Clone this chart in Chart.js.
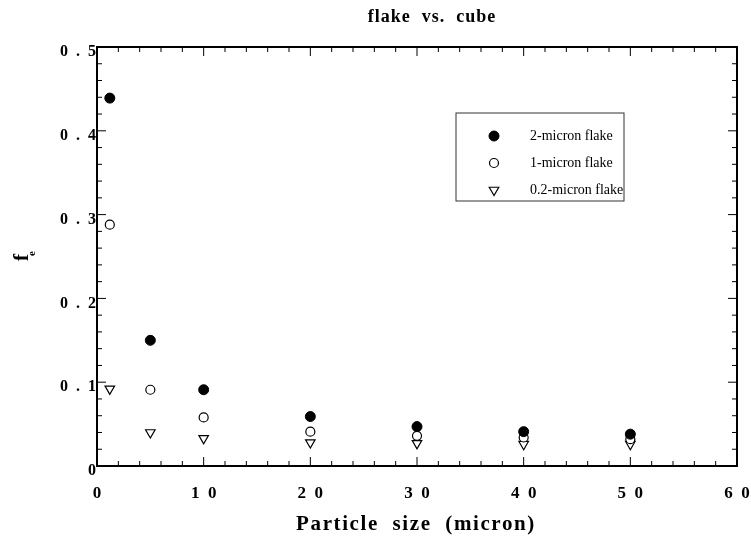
<!DOCTYPE html>
<html><head><meta charset="utf-8">
<script src="https://cdn.jsdelivr.net/npm/chart.js@4.4.1/dist/chart.umd.min.js"></script>
<style>html,body{margin:0;padding:0;background:#fff}#wrap{width:751px;height:538px}</style>
</head><body><div id="wrap"><canvas id="c" width="751" height="538"></canvas></div>
<script>
const particleSize = [1.2, 5, 10, 20, 30, 40, 50];
const flake2 = [0.439, 0.150, 0.091, 0.059, 0.047, 0.041, 0.038];
const flake1 = [0.288, 0.091, 0.058, 0.041, 0.036, 0.034, 0.032];
const flake02 = [0.092, 0.040, 0.033, 0.028, 0.027, 0.026, 0.026];
const seriesLabels = ['2-micron flake', '1-micron flake', '0.2-micron flake'];
const titleText = 'flake  vs.  cube';
const xTitle = 'Particle  size  (micron)';

const pts = (ys) => particleSize.map((x, i) => ({x: x, y: ys[i]}));
const serif = '"Liberation Serif", "Times New Roman", serif';
const SP = '\u2002';

const framePlugin = {
  id: 'frame',
  afterDraw(chart) {
    const {ctx, chartArea: a, scales} = chart;
    const xs = scales.x, ys = scales.y;
    ctx.save();
    ctx.strokeStyle = '#000';
    ctx.lineWidth = 1;
    for (let v = 0; v <= 60; v += 2) {
      const px = xs.getPixelForValue(v);
      const len = (v % 10 === 0) ? 9 : 5;
      ctx.beginPath();
      ctx.moveTo(px, a.bottom); ctx.lineTo(px, a.bottom - len);
      ctx.moveTo(px, a.top); ctx.lineTo(px, a.top + len);
      ctx.stroke();
    }
    for (let k = 0; k <= 25; k++) {
      const v = k * 0.02;
      const py = ys.getPixelForValue(v);
      const len = (k % 5 === 0) ? 9 : 5;
      ctx.beginPath();
      ctx.moveTo(a.left, py); ctx.lineTo(a.left + len, py);
      ctx.moveTo(a.right, py); ctx.lineTo(a.right - len, py);
      ctx.stroke();
    }
    ctx.lineWidth = 2;
    ctx.strokeRect(a.left, a.top, a.right - a.left, a.bottom - a.top);
    ctx.fillStyle = '#000';
    // title
    ctx.font = 'bold 18px ' + serif;
    ctx.letterSpacing = '1px';
    ctx.textAlign = 'center';
    ctx.textBaseline = 'middle';
    ctx.fillText(titleText, (a.left + a.right) / 2 + 15, 17);
    // x title
    ctx.font = 'bold 21px ' + serif;
    ctx.letterSpacing = '1.6px';
    ctx.fillText(xTitle, (a.left + a.right) / 2 - 1, 525);
    ctx.letterSpacing = '0px';
    // y title f_e (rotated)
    ctx.save();
    ctx.translate(28, 261);
    ctx.rotate(-Math.PI / 2);
    ctx.textAlign = 'left';
    ctx.textBaseline = 'alphabetic';
    ctx.font = 'bold 21px ' + serif;
    ctx.fillText('f', 0, 0);
    ctx.font = 'bold 11px ' + serif;
    ctx.fillText('e', 5, 7);
    ctx.restore();
    // legend
    const lx = 456, ly = 113, lw = 168, lh = 88;
    ctx.lineWidth = 1;
    ctx.strokeStyle = '#333';
    ctx.strokeRect(lx, ly, lw, lh);
    ctx.font = '14px ' + serif;
    ctx.textAlign = 'left';
    ctx.textBaseline = 'middle';
    chart.data.datasets.forEach((ds, i) => {
      const cy = ly + 23 + i * 27;
      const cx = lx + 38;
      ctx.save();
      ctx.strokeStyle = '#000';
      ctx.fillStyle = ds.pointBackgroundColor;
      ctx.lineWidth = ds.pointBorderWidth;
      Chart.helpers.drawPoint(ctx, {pointStyle: ds.pointStyle, rotation: ds.pointRotation || 0, radius: ds.pointRadius, borderWidth: ds.pointBorderWidth}, cx, cy);
      ctx.restore();
      ctx.fillStyle = '#000';
      ctx.fillText(ds.label, lx + 74, cy);
    });
    ctx.restore();
  }
};

new Chart(document.getElementById('c'), {
  type: 'scatter',
  data: {
    datasets: [
      {label: seriesLabels[0], data: pts(flake2), pointStyle: 'circle', pointRadius: 5, pointBackgroundColor: '#000', pointBorderColor: '#000', pointBorderWidth: 1},
      {label: seriesLabels[1], data: pts(flake1), pointStyle: 'circle', pointRadius: 4.5, pointBackgroundColor: '#fff', pointBorderColor: '#000', pointBorderWidth: 1.2},
      {label: seriesLabels[2], data: pts(flake02), pointStyle: 'triangle', pointRotation: 180, pointRadius: 5.5, pointBackgroundColor: '#fff', pointBorderColor: '#000', pointBorderWidth: 1.2}
    ]
  },
  options: {
    responsive: false,
    animation: false,
    layout: {padding: {top: 47, right: 14, left: 0, bottom: 0}},
    plugins: {legend: {display: false}, title: {display: false}, tooltip: {enabled: false}},
    scales: {
      x: {
        type: 'linear', min: 0, max: 60,
        grid: {display: false, drawTicks: false},
        border: {display: false},
        afterFit: (s) => { s.height = 72; s.paddingLeft = 0; s.paddingRight = 0; },
        ticks: {stepSize: 10, padding: 17, color: '#000',
          font: {family: serif, weight: 'bold', size: 17},
          callback: (v) => String(v).split('').join(SP)},
        title: {display: false}
      },
      y: {
        type: 'linear', min: 0, max: 0.5,
        grid: {display: false, drawTicks: false},
        border: {display: false},
        afterFit: (s) => { s.width = 97; s.paddingTop = 0; s.paddingBottom = 0; },
        ticks: {stepSize: 0.1, padding: 1, labelOffset: 5, color: '#000',
          font: {family: serif, weight: 'bold', size: 16},
          callback: (v) => v === 0 ? '0' : v.toFixed(1).split('').join(SP)}
      }
    }
  },
  plugins: [framePlugin]
});
</script></body></html>
